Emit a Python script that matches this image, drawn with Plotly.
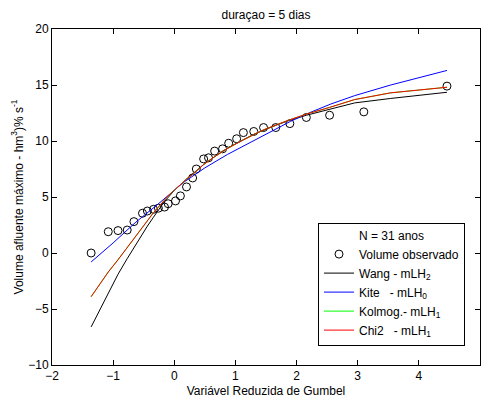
import plotly.graph_objects as go

# Observed data (Gumbel reduced variate, volume)
obs_x = [-1.36, -1.08, -0.92, -0.77, -0.66, -0.52, -0.44, -0.34, -0.26, -0.16,
         -0.10, 0.02, 0.10, 0.20, 0.30, 0.36, 0.48, 0.56, 0.66, 0.79,
         0.89, 1.02, 1.13, 1.30, 1.46, 1.66, 1.89, 2.16, 2.54, 3.10, 4.46]
obs_y = [0.0, 1.9, 2.0, 2.05, 2.8, 3.55, 3.75, 3.9, 4.0, 4.1,
         4.4, 4.65, 5.1, 5.9, 6.7, 7.5, 8.4, 8.5, 9.1, 9.3,
         9.8, 10.2, 10.75, 10.85, 11.2, 11.2, 11.55, 12.1, 12.3, 12.6, 14.9]

# Fitted curves
wang_x = [-1.36, -1.08, -0.92, -0.77, -0.66, -0.52, -0.44, -0.34, -0.26, -0.16,
          0.02, 0.20, 0.48, 0.79, 1.02, 1.30, 1.66, 1.89, 2.16, 2.54, 2.95, 3.54, 4.46]
wang_y = [-6.6, -3.6, -1.9, -0.5, 0.5, 1.7, 2.4, 3.2, 3.8, 4.6,
          5.7, 6.6, 7.9, 9.1, 9.8, 10.6, 11.4, 11.85, 12.3, 12.85, 13.4, 13.8, 14.35]

kite_x = [-1.36, -1.0, -0.64, -0.28, 0.15, 0.50, 0.87, 1.25, 1.41, 1.90,
          2.20, 2.56, 2.95, 3.54, 4.46]
kite_y = [-0.8, 0.9, 2.7, 4.3, 6.3, 7.6, 8.8, 9.9, 10.3, 11.75,
          12.5, 13.3, 14.05, 15.0, 16.3]

kolmog_x = [-1.36, -1.08, -0.92, -0.77, -0.66, -0.52, -0.44, -0.34, -0.26, -0.16,
            -0.10, 0.02, 0.10, 0.20, 0.30, 0.48, 0.66, 0.89, 1.13, 1.46,
            1.89, 2.16, 2.54, 2.95, 3.54, 4.46]
kolmog_y = [-3.9, -1.7, -0.6, 0.5, 1.3, 2.3, 2.9, 3.6, 4.1, 4.7,
            5.1, 5.7, 6.1, 6.6, 7.0, 7.9, 8.6, 9.4, 10.1, 11.0,
            11.9, 12.4, 13.0, 13.7, 14.3, 14.8]

chi2_x = kolmog_x
chi2_y = kolmog_y

font = "Liberation Sans, Arial, sans-serif"

fig = go.Figure()
fig.add_trace(go.Scatter(x=obs_x, y=obs_y, mode="markers", name="Volume observado",
                         marker=dict(symbol="circle-open", size=8,
                                     color="black", line=dict(width=1, color="black"))))
fig.add_trace(go.Scatter(x=wang_x, y=wang_y, mode="lines", name="Wang - mLH<sub>2</sub>",
                         line=dict(color="black", width=1)))
fig.add_trace(go.Scatter(x=kite_x, y=kite_y, mode="lines", name="Kite   - mLH<sub>0</sub>",
                         line=dict(color="#0000ff", width=1)))
fig.add_trace(go.Scatter(x=kolmog_x, y=kolmog_y, mode="lines", name="Kolmog.- mLH<sub>1</sub>",
                         line=dict(color="#00ff00", width=1)))
fig.add_trace(go.Scatter(x=chi2_x, y=chi2_y, mode="lines", name="Chi2   - mLH<sub>1</sub>",
                         line=dict(color="#ff0000", width=1)))

axis_common = dict(showgrid=False, zeroline=False, showline=True, linecolor="black",
                   linewidth=1, mirror="allticks", ticks="inside", ticklen=5,
                   tickcolor="black", tickfont=dict(size=12, color="black", family=font))

fig.update_layout(
    width=483, height=405,
    margin=dict(l=52, r=3, t=29, b=40),
    paper_bgcolor="white", plot_bgcolor="white",
    font=dict(family=font, size=12, color="black"),
    title=dict(text="duraçao = 5 dias", x=0.5, xref="paper", xanchor="center",
               y=1 - 15 / 405, yref="container", yanchor="middle",
               font=dict(size=12, family=font, color="black")),
    xaxis=dict(range=[-2, 5], dtick=1, tick0=-2,
               title=dict(text="Variável Reduzida de Gumbel", standoff=4,
                          font=dict(size=12, family=font)),
               **axis_common),
    yaxis=dict(range=[-10, 20], dtick=5, tick0=-10,
               title=dict(text="Volume afluente máximo - hm<sup>3</sup>)% s<sup>-1</sup>",
                          standoff=2, font=dict(size=12, family=font)),
               **axis_common),
    legend=dict(x=(318 - 52) / 428, y=(365 - 223) / 336, xanchor="left", yanchor="top",
                bgcolor="white", bordercolor="black", borderwidth=1,
                itemwidth=30, tracegroupgap=0,
                font=dict(size=12, family=font, color="black"),
                title=dict(text="N = 31 anos", side="top center",
                           font=dict(size=12, family=font))),
)

fig.write_html("out.html")
